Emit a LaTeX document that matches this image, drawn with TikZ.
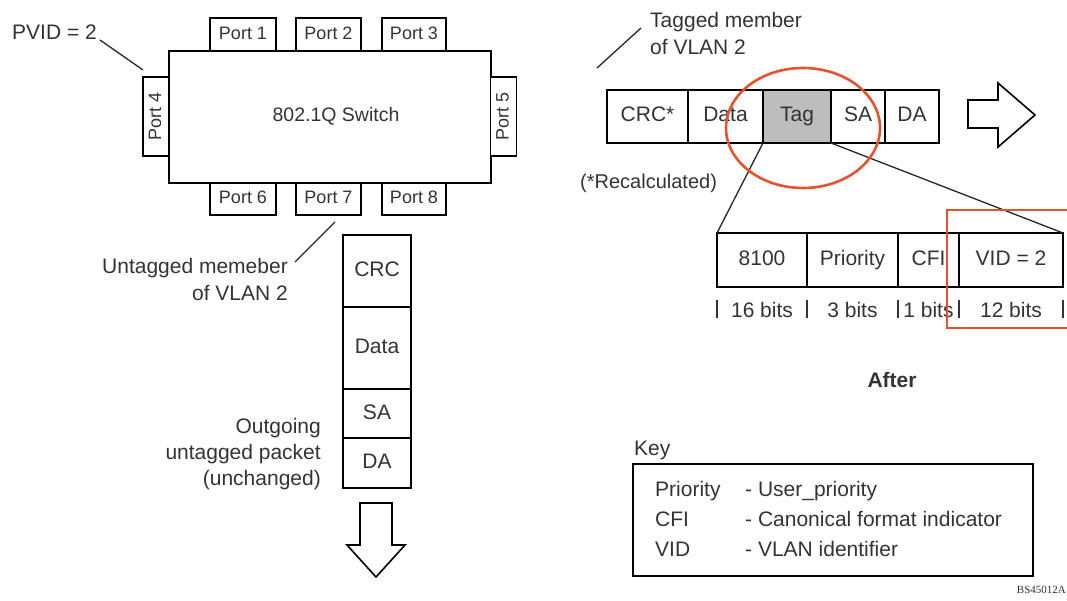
\documentclass[tikz,border=0pt]{standalone}
\usepackage{fontspec}
\setmainfont{Liberation Sans}
\newfontfamily\figidfont{Liberation Serif}
\usepackage{xcolor}
\usetikzlibrary{positioning,shapes.geometric}
\definecolor{ink}{HTML}{333333}
\definecolor{markred}{HTML}{E4532F}
\definecolor{tagfill}{HTML}{BDBDBD}
\tikzset{
    field-box/.style = {draw=black, fill=white, line width=1.6pt, rectangle, inner sep=0pt, outer sep=0pt, text=ink, text height=15pt, text depth=4pt, font=\fontsize{21}{21}\selectfont},
    port-box/.style = {field-box, text height=13pt, text depth=3pt, font=\fontsize{18}{18}\selectfont},
    plain-label/.style = {text=ink, inner sep=0pt, font=\fontsize{21}{27}\selectfont},
    pointer/.style = {draw=black!85, line width=1.3pt},
    bit-bar/.style = {draw=ink, line width=1.5pt},
    red-mark/.style = {draw=markred, line width=2.6pt},
    hollow-arrow/.style = {draw=black, fill=white, line width=1.6pt, line join=miter},
}

\begin{document}
\begin{tikzpicture}[x=1pt, y=-1pt]
\useasboundingbox (0,0) rectangle (1067,601);

\node[port-box, minimum width=322pt, minimum height=132pt, anchor=north west, font=\fontsize{19.5}{19.5}\selectfont] (switch) at (169,51) {\hspace{12pt}802.1Q Switch};
\node[port-box, minimum width=66pt, minimum height=33pt, anchor=south west] (port1) at (210,51) {Port 1};
\node[port-box, minimum width=65pt, minimum height=33pt, anchor=south west] (port2) at (296,51) {Port 2};
\node[port-box, minimum width=64pt, minimum height=33pt, anchor=south west] (port3) at (382,51) {Port 3};
\node[port-box, minimum width=79pt, minimum height=26pt, rotate=90] (port4) at (156,116.5) {Port 4};
\node[port-box, minimum width=79pt, minimum height=26pt, rotate=90] (port5) at (503.5,116.5) {Port 5};
\node[port-box, minimum width=66pt, minimum height=32pt, anchor=north west] (port6) at (210,183) {Port 6};
\node[port-box, minimum width=65pt, minimum height=32pt, anchor=north west] (port7) at (296,183) {Port 7};
\node[port-box, minimum width=64pt, minimum height=32pt, anchor=north west] (port8) at (382,183) {Port 8};

\node[plain-label, anchor=west] (pvid) at (12,32) {PVID = 2};
\coordinate (pvid-start) at (100,40);
\coordinate (pvid-end) at (143,70);
\draw[pointer] (pvid-start) -- (pvid-end);

\node[plain-label, anchor=west, align=left] (tagged) at (650,33) {Tagged member\\of VLAN 2};
\coordinate (tagged-start) at (597,68);
\coordinate (tagged-end) at (641,28);
\draw[pointer] (tagged-start) -- (tagged-end);

\node[plain-label, anchor=east, align=right] (untagged) at (288,279) {Untagged memeber\\of VLAN 2};
\coordinate (untagged-start) at (335,222);
\coordinate (untagged-end) at (295,262);
\draw[pointer] (untagged-start) -- (untagged-end);

\node[field-box, minimum width=68pt, minimum height=72pt, anchor=north west] (out-crc) at (343,235) {CRC};
\node[field-box, minimum width=68pt, minimum height=82pt, below=0pt of out-crc] (out-data) {Data};
\node[field-box, minimum width=68pt, minimum height=49pt, below=0pt of out-data] (out-sa) {SA};
\node[field-box, minimum width=68pt, minimum height=50pt, below=0pt of out-sa] (out-da) {DA};
\node[plain-label, anchor=east, align=right, font=\fontsize{21}{26}\selectfont] (outgoing) at (321,454) {Outgoing\\untagged packet\\(unchanged)};
\draw[hollow-arrow] (360,503) -- (392,503) -- (392,545) -- (405,545) -- (376,577) -- (347,545) -- (360,545) -- cycle;

\node[field-box, minimum width=81pt, minimum height=53pt, anchor=north west] (crc) at (607,90) {CRC*};
\node[field-box, minimum width=75pt, minimum height=53pt, right=0pt of crc] (data) {Data};
\node[field-box, fill=tagfill, minimum width=68pt, minimum height=53pt, right=0pt of data] (tag) {Tag};
\node[field-box, minimum width=54pt, minimum height=53pt, right=0pt of tag] (sa) {SA};
\node[field-box, minimum width=54pt, minimum height=53pt, right=0pt of sa] (da) {DA};
\draw[hollow-arrow] (968,100) -- (998,100) -- (998,83) -- (1035,115) -- (998,147) -- (998,128) -- (968,128) -- cycle;
\node[plain-label, anchor=west, font=\fontsize{20}{20}\selectfont] (recalc) at (580,183) {(*Recalculated)};

\node[field-box, minimum width=90pt, minimum height=54pt, anchor=north west] (f8100) at (717,233) {8100};
\node[field-box, minimum width=91pt, minimum height=54pt, right=0pt of f8100] (fprio) {Priority};
\node[field-box, minimum width=61pt, minimum height=54pt, right=0pt of fprio] (fcfi) {CFI};
\node[field-box, minimum width=104pt, minimum height=54pt, right=0pt of fcfi] (fvid) {VID = 2};
\draw[pointer] (tag.south west) -- (f8100.north west);
\draw[pointer] (tag.south east) -- (fvid.north east);

\node[plain-label] (bits16) at ([yshift=-23pt]f8100.south) {16 bits};
\node[plain-label] (bits3) at ([yshift=-23pt]fprio.south) {3 bits};
\node[plain-label] (bits1) at ([yshift=-23pt]fcfi.south) {1 bits};
\node[plain-label] (bits12) at ([yshift=-23pt]fvid.south) {12 bits};
\foreach \f in {f8100.south west, fprio.south west, fcfi.south west, fvid.south west, fvid.south east}
    \draw[bit-bar] ([yshift=-13pt]\f) -- ++(0,18);

\node[ellipse, red-mark, minimum width=154pt, minimum height=120pt, inner sep=0pt] (tag-mark) at (803,128) {};
\draw[red-mark] (1070,210) -- (947,210) -- (947,328) -- (1070,328);

\node[plain-label, font=\bfseries\fontsize{21}{21}\selectfont] (after) at (892,380) {After};

\node[plain-label, anchor=west] (key-title) at (634,450) {Key};
\node[draw=black, line width=1.6pt, minimum width=400pt, minimum height=112pt, anchor=north west] (key-box) at (632,463) {};
\node[plain-label, anchor=west] (key-rows) at (655,520) {\fontsize{21}{30}\selectfont
    \begin{tabular}{@{}p{90pt}@{}l@{}}
    Priority & - User\_priority\\
    CFI & - Canonical format indicator\\
    VID & - VLAN identifier
    \end{tabular}};

\node[anchor=east, text=ink, inner sep=0pt, font=\figidfont\fontsize{11}{11}\selectfont] (fig-id) at (1066,590) {BS45012A};
\end{tikzpicture}
\end{document}
